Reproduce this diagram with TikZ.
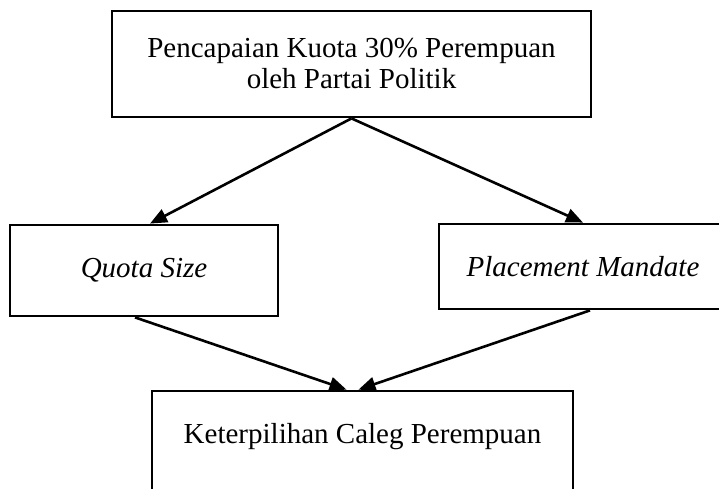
\documentclass[tikz,border=0pt]{standalone}
\usepackage{fontspec}
\setmainfont{Liberation Serif}
\usetikzlibrary{positioning, arrows.meta}
\tikzset{
  every node/.style={font=\fontsize{29}{31}\selectfont},
  BX/.style={draw, line width=2.8pt, inner sep=4pt, align=center},
  AR/.style={-{Triangle[length=17pt,width=14pt]}, line width=2.6pt, black},
}
\newcommand{\branch}[2]{\draw[AR] (#1.south) -- (#2.north);}

\begin{document}
\begin{tikzpicture}[x=1pt, y=1pt, yscale=-1]

\useasboundingbox (0,0) rectangle (719,489);
\clip (0,0) rectangle (719,489);

%% top level
\node[BX, minimum width=479pt, minimum height=106pt] (KUO) at (351.5,64)
  {Pencapaian Kuota 30\% Perempuan\\oleh Partai Politik};

%% the two measures
\node[BX, minimum width=268pt, minimum height=91pt] (QS) at (144,270.5)
  {\textit{Quota Size}};
\node[BX, minimum width=288pt, minimum height=85pt] (PM) at (583,266.5)
  {\textit{Placement Mandate}};

%% outcome (box runs past the lower edge)
\node[BX, minimum width=421pt, minimum height=120pt] (KCP) at (362.5,451) {};
\node at (362.5,437) {Keterpilihan Caleg Perempuan};

\draw[AR] (KUO.south) -- ([xshift=6pt]QS.north);
\branch{KUO}{PM}
\draw[AR] ([xshift=-9pt]QS.south) -- ([xshift=-16pt]KCP.north);
\draw[AR] ([xshift=7pt]PM.south) -- ([xshift=-4pt]KCP.north);

\end{tikzpicture}
\end{document}
